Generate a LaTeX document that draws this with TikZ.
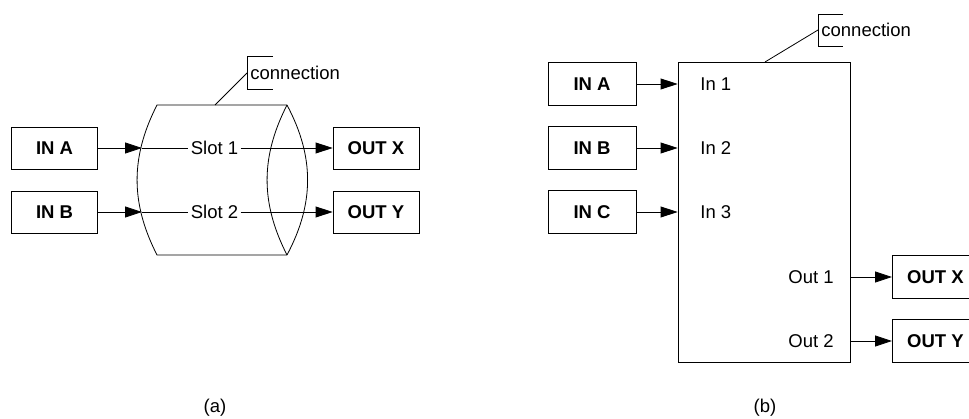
\documentclass[tikz,border=0pt]{standalone}
\usepackage{fontspec}
\setmainfont{Liberation Sans}
\usetikzlibrary{arrows.meta,calc}
\begin{document}
\begin{tikzpicture}[x=1pt,y=-1pt,line width=0.8pt,
  txt/.style={font=\fontsize{18.5}{22}\selectfont, inner sep=2pt},
  box/.style={draw, font=\fontsize{18.5}{22}\selectfont\bfseries, minimum width=86pt, minimum height=42pt, inner sep=0pt},
  arr/.style={-{Triangle[length=17pt,width=11pt]}}]
\useasboundingbox (0,0) rectangle (969,419);
\clip (0,0) rectangle (969,419);
% ---------- (a) ----------
\node[box] (ina) at (54.5,148) {IN A};
\node[box] (inb) at (54.5,212) {IN B};
\node[box] (outx) at (376,148) {OUT X};
\node[box] (outy) at (376,212) {OUT Y};
% cylinder
\draw (287,105) -- (157,105) to[bend right=27] (157,255) -- (287,255);
\draw (287,105) to[bend right=27] (287,255);
\draw (287,105) to[bend left=28] (287,255);
\coordinate (ca1) at (142,148);
\coordinate (ca2) at (142,212);
\coordinate (ctop) at (215,105);
\node[txt] (slot1) at (214.5,148) {Slot 1};
\node[txt] (slot2) at (214.5,212) {Slot 2};
\draw[arr] (ina) -- (ca1);
\draw[arr] (inb) -- (ca2);
\draw (ca1) -- (slot1);
\draw (ca2) -- (slot2);
\draw[arr] (slot1) -- (outx);
\draw[arr] (slot2) -- (outy);
% callout
\node[txt, anchor=west, inner sep=0pt] (lbla) at (250,73) {connection};
\coordinate (ba) at (247,73);
\draw (273,56) -- (247,56) -- (247,89) -- (273,89);
\draw (ctop) -- (ba);
\node[txt] (capa) at (215,408) {(a)};
% ---------- (b) ----------
\node[box, minimum width=88pt, minimum height=43pt] (ina2) at (592,84) {IN A};
\node[box, minimum width=88pt, minimum height=43pt] (inb2) at (592,148) {IN B};
\node[box, minimum width=88pt, minimum height=43pt] (inc2) at (592,212) {IN C};
\node[draw, minimum width=172pt, minimum height=300pt, inner sep=0pt] (conn) at (764,212) {};
\node[box, anchor=west, minimum height=43pt] (outx2) at (892,277) {OUT X};
\node[box, anchor=west, minimum height=43pt] (outy2) at (892,341) {OUT Y};
\draw[arr] (ina2) -- (ina2 -| conn.west);
\draw[arr] (inb2) -- (inb2 -| conn.west);
\draw[arr] (inc2) -- (inc2 -| conn.west);
\node[txt, anchor=west] (in1) at (698,84) {In 1};
\node[txt, anchor=west] (in2) at (698,148) {In 2};
\node[txt, anchor=west] (in3) at (698,212) {In 3};
\node[txt, anchor=east] (out1) at (836,277) {Out 1};
\node[txt, anchor=east] (out2) at (836,341) {Out 2};
\draw[arr] (outx2 -| conn.east) -- (outx2);
\draw[arr] (outy2 -| conn.east) -- (outy2);
% callout
\node[txt, anchor=west, inner sep=0pt] (lblb) at (821,30) {connection};
\coordinate (bb) at (818,30);
\coordinate (btop) at (765,62);
\draw (843,14) -- (818,14) -- (818,46) -- (843,46);
\draw (btop) -- (bb);
\node[txt] (capb) at (765,408) {(b)};
\end{tikzpicture}
\end{document}
